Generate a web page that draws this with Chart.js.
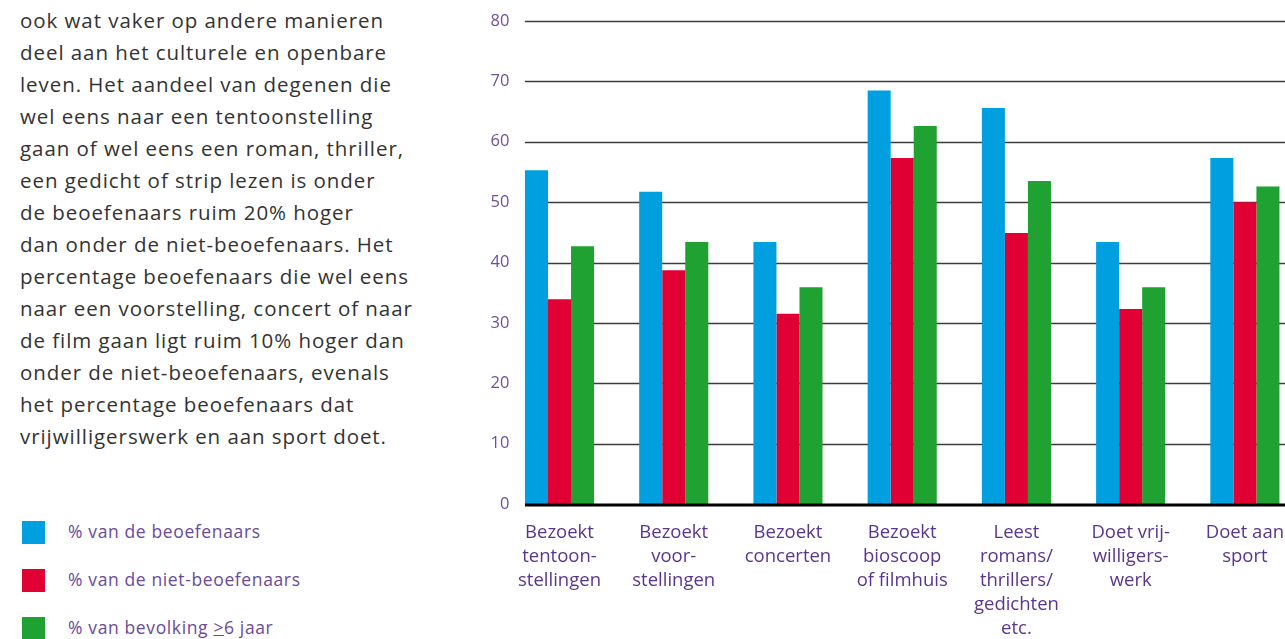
<!DOCTYPE html>
<html>
<head>
<meta charset="utf-8">
<script src="https://cdn.jsdelivr.net/npm/chart.js@4/dist/chart.umd.min.js"></script>
<style>
  html, body { margin: 0; padding: 0; width: 1285px; height: 639px; overflow: hidden; background: #fff; }
  #para { position: absolute; left: 20px; top: 4px; font-family: "Open Sans", sans-serif; font-size: 20.5px; line-height: 32px; color: #333; white-space: nowrap; }
  #legend { position: absolute; left: 22px; top: 521px; font-family: "Open Sans", sans-serif; font-size: 17.5px; color: #6a4a9a; }
  .row { position: absolute; left: 0; height: 24px; white-space: nowrap; }
  .sw { position: absolute; left: 0; top: 0; width: 23px; height: 23px; }
  .lt { position: absolute; left: 46px; top: -1px; line-height: 23px; }
  #wrap { position: absolute; left: 440px; top: 0; width: 880px; height: 639px; }
</style>
</head>
<body>
<div id="para">ook wat vaker op andere manieren<br>deel aan het culturele en openbare<br>leven. Het aandeel van degenen die<br>wel eens naar een tentoonstelling<br>gaan of wel eens een roman, thriller,<br>een gedicht of strip lezen is onder<br>de beoefenaars ruim 20% hoger<br>dan onder de niet-beoefenaars. Het<br>percentage beoefenaars die wel eens<br>naar een voorstelling, concert of naar<br>de film gaan ligt ruim 10% hoger dan<br>onder de niet-beoefenaars, evenals<br>het percentage beoefenaars dat<br>vrijwilligerswerk en aan sport doet.</div>
<div id="legend"></div>
<div id="wrap"><canvas id="c" width="880" height="639"></canvas></div>
<script>
const categories = [
  ["Bezoekt", "tentoon-", "stellingen"],
  ["Bezoekt", "voor-", "stellingen"],
  ["Bezoekt", "concerten"],
  ["Bezoekt", "bioscoop", "of filmhuis"],
  ["Leest", "romans/", "thrillers/", "gedichten", "etc."],
  ["Doet vrij-", "willigers-", "werk"],
  ["Doet aan", "sport"]
];
const seriesNames = ["% van de beoefenaars", "% van de niet-beoefenaars", "% van bevolking >6 jaar"];
const beoefenaars = [55.3, 51.7, 43.4, 68.5, 65.6, 43.4, 57.3];
const nietBeoefenaars = [33.9, 38.7, 31.5, 57.3, 44.9, 32.3, 50.0];
const bevolking = [42.7, 43.4, 35.9, 62.6, 53.5, 35.9, 52.6];
const yTicks = [0, 10, 20, 30, 40, 50, 60, 70, 80];
const colors = ["#009fe0", "#e10034", "#20a232"];

// width fitting for the HTML text (letter-spacing so the text widths match)
const mctx = document.createElement('canvas').getContext('2d');
function fitSpacing(el, sample, target) {
  const cs = getComputedStyle(el);
  mctx.font = cs.fontSize + ' ' + cs.fontFamily;
  const w = mctx.measureText(sample).width;
  el.style.letterSpacing = ((target - w) / (sample.length - 1)) + 'px';
}

// HTML legend
const lg = document.getElementById('legend');
seriesNames.forEach((n, i) => {
  const r = document.createElement('div');
  r.className = 'row';
  r.style.top = (i * 48) + 'px';
  const label = n.replace('>', '<u>&gt;</u>');
  r.innerHTML = '<div class="sw" style="background:' + colors[i] + '"></div><div class="lt">' + label + '</div>';
  lg.appendChild(r);
});

function layoutText() {
  fitSpacing(document.getElementById('para'), 'ook wat vaker op andere manieren', 363);
  fitSpacing(lg, '% van de beoefenaars', 192);
}
layoutText();
if (document.fonts && document.fonts.ready) document.fonts.ready.then(layoutText);

const gridPlugin = {
  id: 'customGrid',
  beforeDatasetsDraw(chart) {
    const ctx = chart.ctx, y = chart.scales.y, area = chart.chartArea;
    const bar = chart.getDatasetMeta(0).data[0];
    const x0 = bar.x - bar.width / 2;
    ctx.save();
    ctx.strokeStyle = '#3c3c3c';
    ctx.lineWidth = 1.3;
    yTicks.forEach(v => {
      if (v === 0) return;
      const py = Math.round(y.getPixelForValue(v)) + 0.5;
      ctx.beginPath(); ctx.moveTo(x0, py); ctx.lineTo(area.right + 40, py); ctx.stroke();
    });
    ctx.restore();
  },
  afterDatasetsDraw(chart) {
    const ctx = chart.ctx, y = chart.scales.y, area = chart.chartArea;
    const bar = chart.getDatasetMeta(0).data[0];
    const x0 = bar.x - bar.width / 2;
    const py = y.getPixelForValue(0);
    ctx.save();
    ctx.fillStyle = '#000';
    ctx.fillRect(x0, py - 0.5, area.right + 40 - x0, 3);
    ctx.restore();
  }
};

new Chart(document.getElementById('c'), {
  type: 'bar',
  data: {
    labels: categories,
    datasets: [
      { label: seriesNames[0], data: beoefenaars, backgroundColor: colors[0] },
      { label: seriesNames[1], data: nietBeoefenaars, backgroundColor: colors[1] },
      { label: seriesNames[2], data: bevolking, backgroundColor: colors[2] }
    ]
  },
  options: {
    responsive: false,
    animation: false,
    devicePixelRatio: 1,
    layout: { padding: { top: 21, right: 18, left: 0, bottom: 0 } },
    datasets: { bar: { barPercentage: 1, categoryPercentage: 0.605, borderWidth: 0 } },
    plugins: { legend: { display: false }, tooltip: { enabled: false } },
    scales: {
      x: {
        grid: { display: false, drawTicks: false },
        border: { display: false },
        ticks: {
          padding: 17,
          maxRotation: 0, autoSkip: false,
          color: '#5a3590',
          font: { family: '"Open Sans", sans-serif', size: 18.5, lineHeight: 1.3 }
        },
        afterFit(s) { s.height = 135; }
      },
      y: {
        min: 0, max: 80,
        grid: { display: false, drawTicks: false },
        border: { display: false },
        afterBuildTicks(s) { s.ticks = yTicks.map(v => ({ value: v })); },
        ticks: {
          padding: -7,
          color: '#6f4ea0',
          font: { family: '"Open Sans", sans-serif', size: 16.5 }
        },
        afterFit(s) { s.width = 62.4; s._computeLabelArea = () => undefined; }
      }
    }
  },
  plugins: [gridPlugin]
});
</script>
</body>
</html>
